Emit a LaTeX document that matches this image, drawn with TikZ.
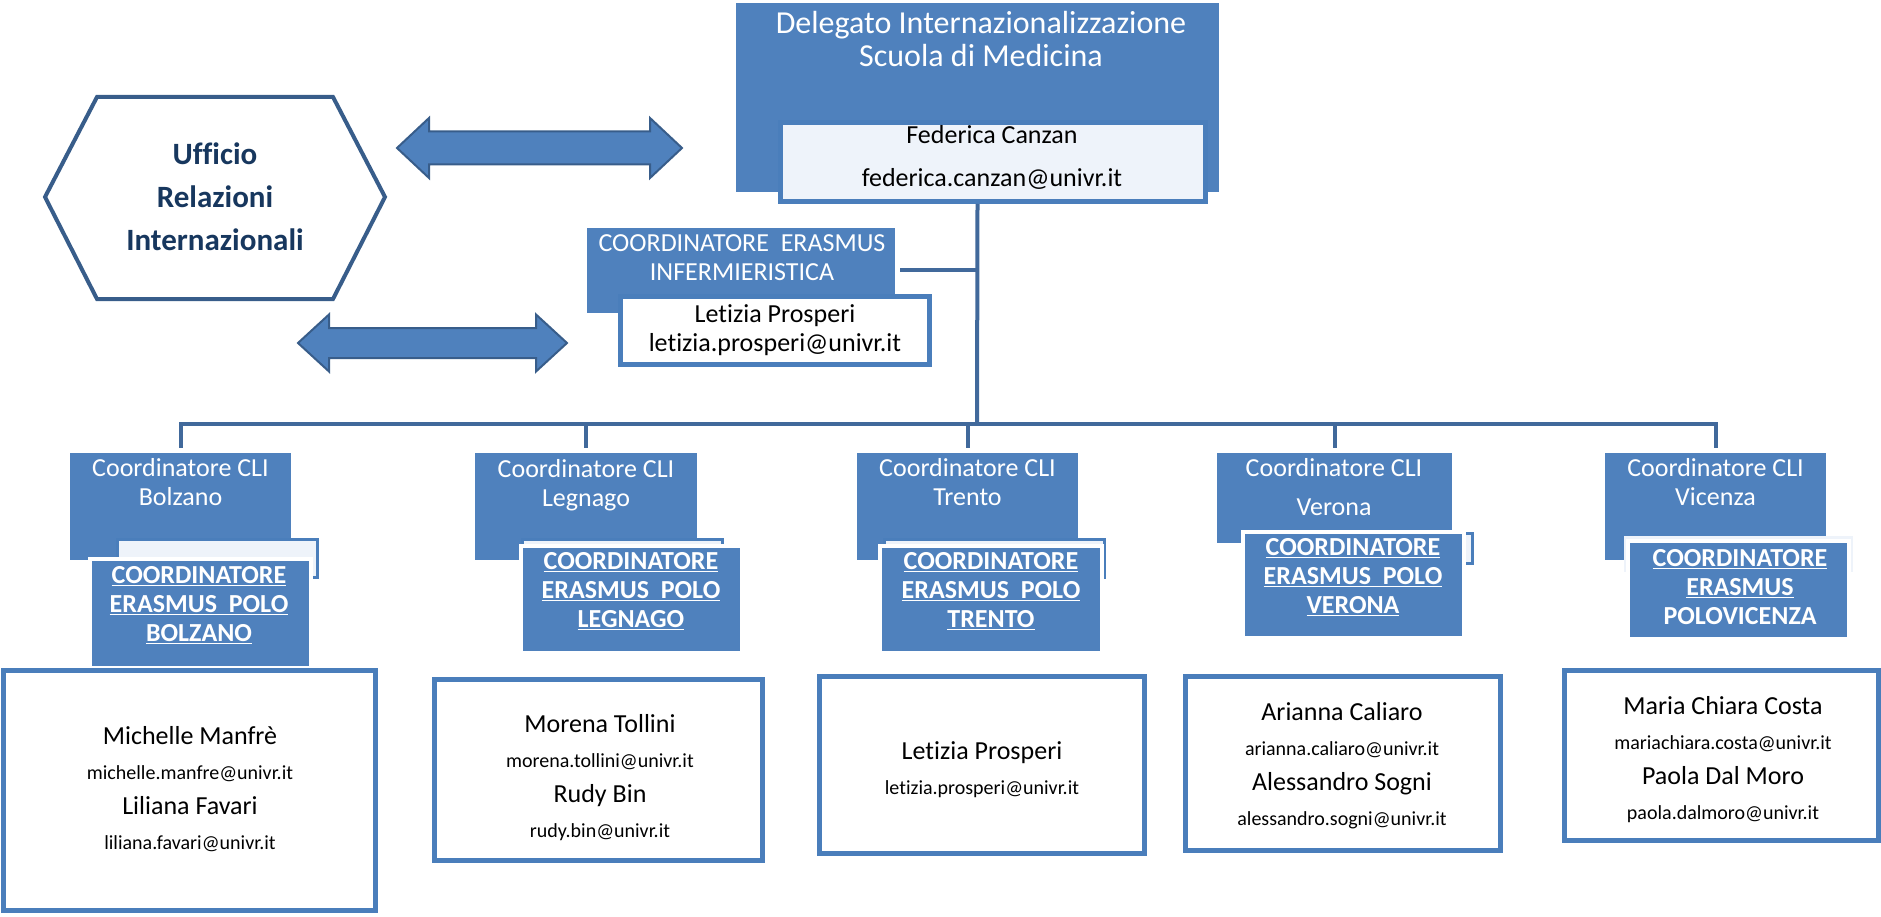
\documentclass[tikz,border=0pt]{standalone}
\usepackage{fontspec}
\setmainfont{Carlito}[Ligatures=NoCommon]
\usetikzlibrary{positioning,calc}

\definecolor{boxblue}{HTML}{4F81BD}
\definecolor{rimblue}{HTML}{4A7EBB}
\definecolor{linkblue}{HTML}{41699B}
\definecolor{hexrim}{HTML}{385D8A}
\definecolor{navy}{HTML}{17375E}
\definecolor{paleblue}{HTML}{EEF3FA}

\newcommand{\pname}{\fontsize{26}{35}\selectfont}
\newcommand{\pmail}{\fontsize{20}{35}\selectfont}

\begin{document}
\begin{tikzpicture}
  [
  x=1pt, y=-1pt,
  font=\fontsize{26}{29}\selectfont,
  link/.style={draw=linkblue, line width=4pt},
  headbox/.style={rectangle, fill=boxblue, inner sep=0pt},
  cli/.style={rectangle, fill=boxblue, minimum width=221pt, minimum height=107pt, inner sep=0pt},
  card/.style={fill=paleblue, draw=rimblue, line width=3pt},
  polo/.style={rectangle, fill=boxblue, draw=white, line width=4pt, minimum width=221pt, inner sep=0pt},
  person/.style={rectangle, fill=white, draw=rimblue, line width=5pt, inner sep=0pt},
  wtext/.style={text=white, align=center, inner sep=0pt},
  btext/.style={text=black, align=center, inner sep=0pt},
  ptext/.style={text=black, align=center, inner sep=0pt, font=\fontsize{26}{35}\selectfont},
  polotext/.style={text=white, align=center, inner sep=0pt, font=\fontsize{26}{29}\selectfont\bfseries},
  twoway/.style={fill=boxblue, draw=hexrim, line width=2pt}
  ]

\useasboundingbox (0,0) rectangle (1881,917);

% ufficio and the two double arrows
\draw[draw=hexrim, line width=4pt, fill=white] (45,197) -- (97,97) -- (333,97) -- (385,197) -- (333,299) -- (97,299) -- cycle;
\node[align=center, inner sep=0pt, text=navy, font=\fontsize{31}{43}\selectfont\bfseries] (ufficio) at (215,197) {Ufficio\\Relazioni\\Internazionali};

\draw[twoway] (397,148) -- (429,118) -- (429,131.5) -- (650,131.5) -- (650,118) -- (682,148) -- (650,178) -- (650,164.5) -- (429,164.5) -- (429,178) -- cycle;
\draw[twoway] (298,343) -- (329,314.5) -- (329,328) -- (536,328) -- (536,314.5) -- (567,343) -- (536,371.5) -- (536,358) -- (329,358) -- (329,371.5) -- cycle;

% delegato
\node[headbox, minimum width=483pt, minimum height=189pt] (deleg) at (977.5,97.5) {};
\node[wtext, font=\fontsize{32}{33}\selectfont] (delegt) at (981,39) {Delegato Internazionalizzazione\\Scuola di Medicina};
\node[rectangle, fill=paleblue, draw=rimblue, line width=5pt, minimum width=425pt, minimum height=79pt, inner sep=0pt] (fed) at (993,162) {};
\node[btext, font=\fontsize{26}{43}\selectfont] (fedt) at (992,157) {Federica Canzan\\federica.canzan@univr.it};

% infermieristica
\node[headbox, minimum width=308pt, minimum height=85pt] (inf) at (741,270.5) {};
\node[wtext] (inft) at (742,257.5) {COORDINATORE\ \ ERASMUS\\INFERMIERISTICA};
\node[person, minimum width=309pt, minimum height=68pt] (infp) at (775,330.5) {};
\node[btext] (infpt) at (775,330) {Letizia Prosperi\\letizia.prosperi@univr.it};

% CLI
\node[cli] (cli1) at (180.5,506.5) {};
\node[cli, minimum width=222pt] (cli2) at (586,506.5) {};
\node[cli] (cli3) at (967.5,506.5) {};
\node[cli, minimum width=235pt, minimum height=90pt] (cli4) at (1334.5,498) {};
\node[cli] (cli5) at (1715.5,506.5) {};

\node[wtext] (cli1t) at (180.5,482.5) {Coordinatore CLI\\Bolzano};
\node[wtext] (cli2t) at (586,485) {Coordinatore CLI\\Legnago};
\node[wtext] (cli3t) at (967.5,482.5) {Coordinatore CLI\\Trento};
\node[wtext, font=\fontsize{26}{39}\selectfont] (cli4t) at (1334,487.5) {Coordinatore CLI\\Verona};
\node[wtext] (cli5t) at (1715.5,482.5) {Coordinatore CLI\\Vicenza};

% polo
\draw[card] (117,539) rectangle (317,577);
\draw[card] (522,539) rectangle (722,577);
\draw[card] (884,539) rectangle (1104,577);
\draw[card] (1250,533) rectangle (1472,563);
\draw[card, draw=paleblue] (1625,537) rectangle (1851,570);

\node[polo, minimum height=109pt] (polo1) at (200.5,613.5) {};
\node[polo, minimum height=107pt] (polo2) at (631.5,599.5) {};
\node[polo, minimum width=222pt, minimum height=107pt] (polo3) at (991,599.5) {};
\node[polo, minimum height=106pt] (polo4) at (1353.5,585) {};
\node[polo, minimum height=98pt] (polo5) at (1738.5,590) {};

\node[polotext] (polo1t) at (199,605) {\underline{COORDINATORE}\\\underline{ERASMUS\ \ POLO}\\\underline{BOLZANO}};
\node[polotext] (polo2t) at (631,591) {\underline{COORDINATORE}\\\underline{ERASMUS\ \ POLO}\\\underline{LEGNAGO}};
\node[polotext] (polo3t) at (991,591) {\underline{COORDINATORE}\\\underline{ERASMUS\ \ POLO}\\\underline{TRENTO}};
\node[polotext] (polo4t) at (1353,577) {\underline{COORDINATORE}\\\underline{ERASMUS\ \ POLO}\\\underline{VERONA}};
\node[polotext] (polo5t) at (1740,587) {\underline{COORDINATORE}\\\underline{ERASMUS}\\POLOVICENZA};

% people
\node[person, minimum width=372pt, minimum height=240pt] (pers1) at (189.5,790.5) {};
\node[person, minimum width=328pt, minimum height=181pt] (pers2) at (598.5,770) {};
\node[person, minimum width=325pt, minimum height=177pt] (pers3) at (982,765) {};
\node[person, minimum width=315pt, minimum height=174pt] (pers4) at (1343,763.5) {};
\node[person, minimum width=314pt, minimum height=170pt] (pers5) at (1721.5,755.5) {};

\node[ptext] (pers1t) at (190,789.5) {\pname Michelle Manfrè\\\pmail michelle.manfre@univr.it\\\pname Liliana Favari\\\pmail liliana.favari@univr.it};
\node[ptext] (pers2t) at (600,778) {\pname Morena Tollini\\\pmail morena.tollini@univr.it\\\pname Rudy Bin\\\pmail rudy.bin@univr.it};
\node[ptext] (pers3t) at (982,769.5) {\pname Letizia Prosperi\\\pmail letizia.prosperi@univr.it};
\node[ptext] (pers4t) at (1342,765.5) {\pname Arianna Caliaro\\\pmail arianna.caliaro@univr.it\\\pname Alessandro Sogni\\\pmail alessandro.sogni@univr.it};
\node[ptext] (pers5t) at (1723,759.5) {\pname Maria Chiara Costa\\\pmail mariachiara.costa@univr.it\\\pname Paola Dal Moro\\\pmail paola.dalmoro@univr.it};

% tree
\coordinate (bus) at (977,424);
\draw[link] (deleg.south |- fed.south) -- (bus);
\draw[link] ([xshift=5pt]inf.east) -- (inf.east -| bus);
\draw[link, shorten <=5pt, shorten >=5pt] (cli1.north) |- (bus) -| (cli5.north);
\foreach \c in {2,3,4} {
  \draw[link, shorten <=5pt] (cli\c.north) -- (cli\c.north |- bus);
}

\end{tikzpicture}
\end{document}
